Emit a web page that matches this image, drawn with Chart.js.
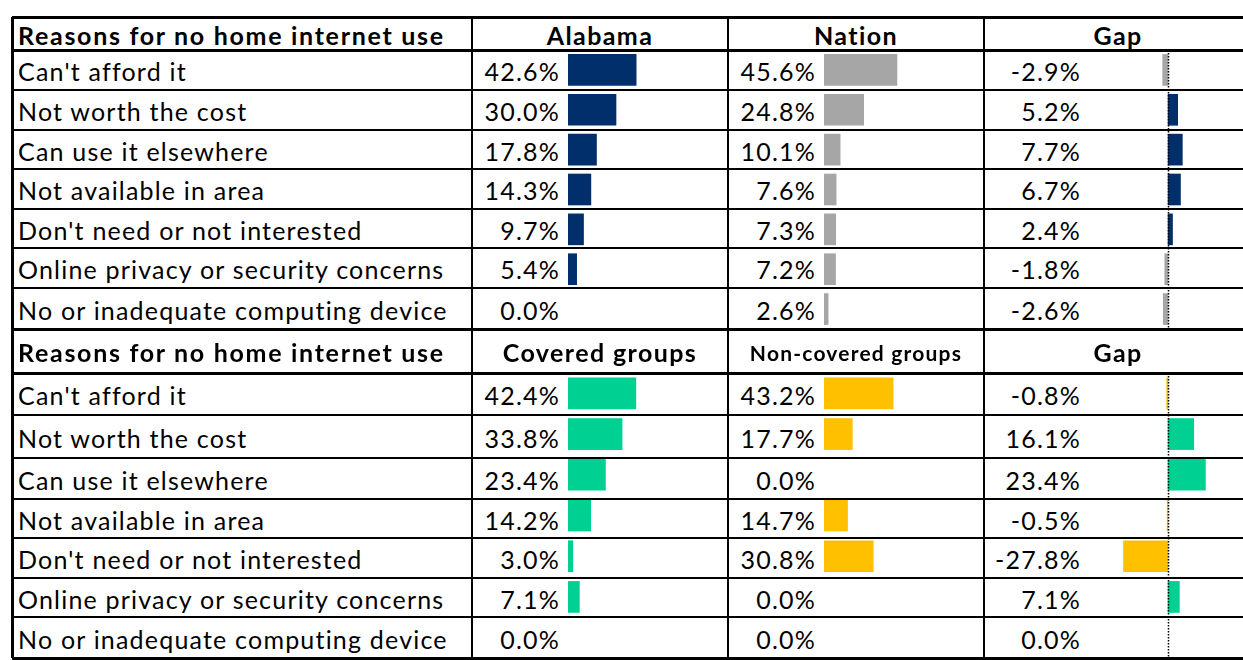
<!DOCTYPE html>
<html>
<head>
<meta charset="utf-8">
<script src="https://cdn.jsdelivr.net/npm/chart.js@4"></script>
<style>
  body { margin: 0; background: #fff; width: 1243px; height: 660px; overflow: hidden; position: relative; font-family: "Lato", sans-serif; color: #000; }
  .hl, .vl { position: absolute; background: #000; }
  .cell { position: absolute; white-space: nowrap; display: flex; align-items: center; font-size: 25px; letter-spacing: 1.2px; }
  .lbl { justify-content: flex-start; }
  .num { justify-content: flex-end; }
  .hdr { justify-content: center; font-weight: 700; letter-spacing: 1.4px; }
  canvas { position: absolute; }
</style>
</head>
<body>
<script>
var reasons = ["Can't afford it", "Not worth the cost", "Can use it elsewhere", "Not available in area",
  "Don't need or not interested", "Online privacy or security concerns", "No or inadequate computing device"];
var alabama = [42.6, 30.0, 17.8, 14.3, 9.7, 5.4, 0.0];
var nation = [45.6, 24.8, 10.1, 7.6, 7.3, 7.2, 2.6];
var gapState = [-2.9, 5.2, 7.7, 6.7, 2.4, -1.8, -2.6];
var covered = [42.4, 33.8, 23.4, 14.2, 3.0, 7.1, 0.0];
var nonCovered = [43.2, 17.7, 0.0, 14.7, 30.8, 0.0, 0.0];
var gapGroups = [-0.8, 16.1, 23.4, -0.5, -27.8, 7.1, 0.0];

var navy = '#002F6C', grey = '#A6A6A6', green = '#00D092', amber = '#FFC000';

// table geometry
var colX = [12, 472, 728, 984, 1252];
var sections = [
  { rows: [17, 50, 90, 130, 169, 209, 248, 288, 329],
    heads: ['Reasons for no home internet use', 'Alabama', 'Nation', 'Gap'],
    a: alabama, b: nation, gap: gapState, ca: navy, cb: grey, gapMin: -36.8, gapMax: 40.5 },
  { rows: [329, 373, 415, 458, 499, 538, 578, 617, 658],
    heads: ['Reasons for no home internet use', 'Covered groups', 'Non-covered groups', 'Gap'],
    a: covered, b: nonCovered, gap: gapGroups, ca: green, cb: amber, gapMin: -42.5, gapMax: 46.9 }
];

function line(cls, x, y, w, h) {
  var d = document.createElement('div');
  d.className = cls;
  d.style.left = x + 'px'; d.style.top = y + 'px';
  d.style.width = w + 'px'; d.style.height = h + 'px';
  document.body.appendChild(d);
}
function cell(cls, text, x, y, w, h, extra) {
  var d = document.createElement('div');
  d.className = 'cell ' + cls;
  d.textContent = text;
  d.style.left = x + 'px'; d.style.top = y + 'px';
  d.style.width = w + 'px'; d.style.height = h + 'px';
  if (extra) Object.assign(d.style, extra);
  document.body.appendChild(d);
}
function fmt(v) { return v.toFixed(1) + '%'; }

// dotted zero line for the gap column
var zeroLine = {
  id: 'zeroLine',
  afterDatasetsDraw: function(chart, args, opts) {
    if (!opts.show) return;
    var x = Math.round(chart.scales.x.getPixelForValue(0)) + 0.5;
    var c = chart.ctx;
    c.save();
    c.strokeStyle = '#000';
    c.lineWidth = 1.5;
    c.setLineDash([1.5, 1.5]);
    c.beginPath();
    c.moveTo(x, chart.chartArea.top);
    c.lineTo(x, chart.chartArea.bottom);
    c.stroke();
    c.restore();
  }
};

function barChart(x, y, w, h, values, colors, min, max, zero) {
  var cv = document.createElement('canvas');
  cv.width = w; cv.height = h;
  cv.style.left = x + 'px'; cv.style.top = y + 'px';
  document.body.appendChild(cv);
  new Chart(cv.getContext('2d'), {
    type: 'bar',
    data: {
      labels: reasons,
      // zero values get no bar at all
      datasets: [{ data: values.map(function(v) { return v === 0 ? null : v; }),
                   backgroundColor: colors, borderWidth: 0, barThickness: 31 }]
    },
    options: {
      indexAxis: 'y',
      responsive: false,
      animation: false,
      layout: { padding: 0 },
      plugins: { legend: { display: false }, tooltip: { enabled: false }, zeroLine: { show: zero } },
      scales: {
        x: { display: false, min: min, max: max },
        y: { display: false }
      }
    },
    plugins: [zeroLine]
  });
}

sections.forEach(function(s, si) {
  var r = s.rows;
  // header cells
  cell('lbl hdr', s.heads[0], colX[0] + 6, r[0] + 1, colX[1] - colX[0] - 6, r[1] - r[0], { justifyContent: 'flex-start', letterSpacing: '1.7px' });
  for (var c = 1; c < 4; c++) {
    var small = s.heads[c] === 'Non-covered groups';
    cell('hdr', s.heads[c], colX[c], r[0] + 1, colX[c + 1] - colX[c], r[1] - r[0], small ? { fontSize: '21px', letterSpacing: '1.2px' } : null);
  }
  // body cells
  for (var i = 0; i < reasons.length; i++) {
    var top = r[i + 1] + 1, h = r[i + 2] - r[i + 1];
    cell('lbl', reasons[i], colX[0] + 6, top, colX[1] - colX[0] - 6, h);
    cell('num', fmt(s.a[i]), colX[1], top, 560 - colX[1], h);
    cell('num', fmt(s.b[i]), colX[2], top, 816 - colX[2], h);
    cell('num', fmt(s.gap[i]), colX[3], top, 1081 - colX[3], h);
  }
  // bars
  var y0 = r[1], bh = r[8] - r[1];
  barChart(568, y0, 160, bh, s.a, s.ca, 0, 100, false);
  barChart(824, y0, 160, bh, s.b, s.cb, 0, 100, false);
  var gc = s.gap.map(function(v) { return v < 0 ? s.cb : s.ca; });
  barChart(1100, y0, 143, bh, s.gap, gc, s.gapMin, s.gapMax, true);
  // horizontal rules
  for (var k = 0; k < r.length; k++) {
    var thick = (k === 0 || k === 1 || k === 8);
    line('hl', colX[0], r[k] - (thick ? 1.5 : 1), 1243 - colX[0], thick ? 3 : 2);
  }
  // vertical rules
  line('vl', colX[0] - 1, r[0], 3, r[8] - r[0]);
  for (var v = 1; v < 4; v++) line('vl', colX[v] - 1, r[0], 1.5, r[8] - r[0]);
});
</script>
</body>
</html>
